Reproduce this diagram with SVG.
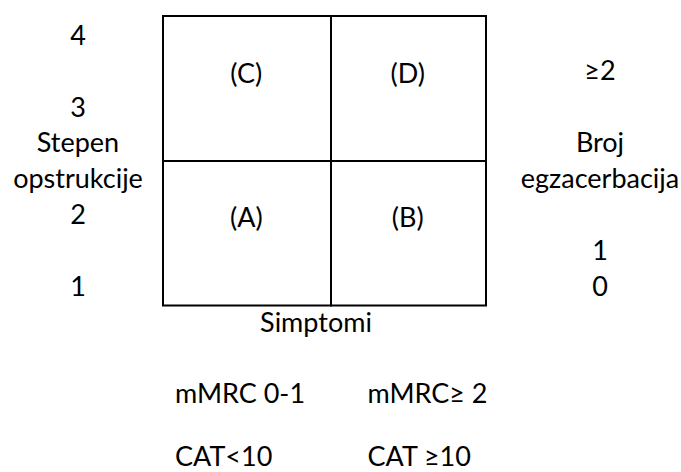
<svg xmlns="http://www.w3.org/2000/svg" width="681" height="472" viewBox="0 0 681 472">
<style>
text{font-family:Lato,"Liberation Sans",sans-serif;font-size:27px;fill:#000}
.m{text-anchor:middle}
.cell{fill:#fff;stroke:#000;stroke-width:2}
</style>
<rect width="681" height="472" fill="#fff"/>
<g id="grid">
<rect id="cellC" class="cell" x="163" y="16" width="168" height="145"/>
<rect id="cellD" class="cell" x="331" y="16" width="155" height="145"/>
<rect id="cellA" class="cell" x="163" y="161" width="168" height="144.5"/>
<rect id="cellB" class="cell" x="331" y="161" width="155" height="144.5"/>
</g>
<g id="labels-cells">
<text class="m" x="246.3" y="82.5">(C)</text>
<text class="m" x="407.8" y="82.5">(D)</text>
<text class="m" x="246.3" y="226.5">(A)</text>
<text class="m" x="407.8" y="226.5">(B)</text>
</g>
<g id="axis-left">
<text class="m" x="78" y="45">4</text>
<text class="m" x="78" y="116.7">3</text>
<text class="m" x="78" y="151.7">Stepen</text>
<text class="m" x="78" y="188">opstrukcije</text>
<text class="m" x="78" y="224">2</text>
<text class="m" x="78" y="296">1</text>
</g>
<g id="axis-right">
<text class="m" x="600" y="80">≥2</text>
<text class="m" x="600" y="151.7">Broj</text>
<text class="m" x="600" y="188">egzacerbacija</text>
<text class="m" x="600" y="260">1</text>
<text class="m" x="600" y="296">0</text>
</g>
<g id="axis-bottom">
<text class="m" x="316" y="331.5">Simptomi</text>
<text x="175" y="403">mMRC 0-1</text>
<text x="367.5" y="403">mMRC≥ 2</text>
<text x="175" y="466">CAT&lt;10</text>
<text x="367.5" y="466">CAT ≥10</text>
</g>
</svg>
